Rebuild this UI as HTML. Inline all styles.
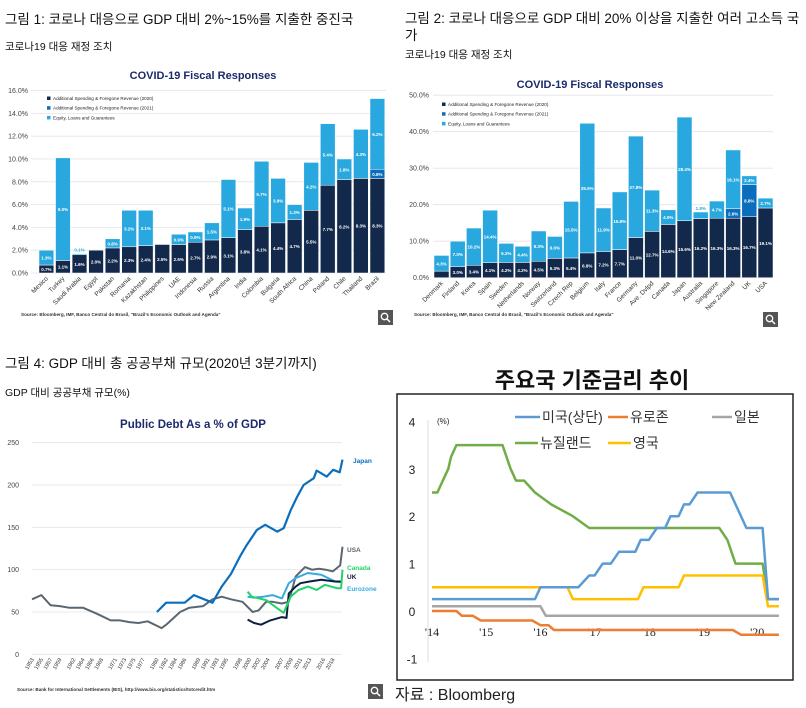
<!DOCTYPE html>
<html><head><meta charset="utf-8"><style>
body{margin:0;background:#fff;width:806px;height:708px;overflow:hidden;font-family:"Liberation Sans","Noto Sans CJK KR",sans-serif}
svg{position:absolute;left:0;top:0}
</style></head><body>
<svg id="s" width="806" height="708" xmlns="http://www.w3.org/2000/svg" font-family="Liberation Sans, Noto Sans CJK KR, sans-serif">
<text x="5" y="24" font-size="13.5" fill="#111">그림 1: 코로나 대응으로 GDP 대비 2%~15%를 지출한 중진국</text>
<text x="5" y="50" font-size="10.5" fill="#111">코로나19 대응 재정 조치</text>
<text x="405" y="23" font-size="13.5" fill="#111">그림 2: 코로나 대응으로 GDP 대비 20% 이상을 지출한 여러 고소득 국</text>
<text x="405" y="40" font-size="13.5" fill="#111">가</text>
<text x="405" y="58" font-size="10.5" fill="#111">코로나19 대응 재정 조치</text>
<text x="5" y="368" font-size="13.5" fill="#111">그림 4: GDP 대비 총 공공부채 규모(2020년 3분기까지)</text>
<text x="5" y="396" font-size="10.5" fill="#111">GDP 대비 공공부채 규모(%)</text>
</svg>
<script>
// Chart 1 data
const c1Cats=["Mexico","Turkey","Saudi Arabia","Egypt","Pakistan","Romania","Kazakhstan","Philippines","UAE","Indonesia","Russia","Argentina","India","Colombia","Bulgaria","South Africa","China","Poland","Chile","Thailand","Brazil"];
const c1Spend2020=[0.7,1.1,1.6,2.0,2.2,2.3,2.4,2.5,2.5,2.7,2.9,3.1,3.8,4.1,4.4,4.7,5.5,7.7,8.2,8.3,8.3];
const c1Spend2021=[0,0,0,0,0,0,0,0,0,0,0,0,0,0,0,0,0,0,0,0,0.8];
const c1Equity=[1.3,9.0,0.1,0,0.8,3.2,3.1,0,0.9,0.9,1.5,5.1,1.9,5.7,3.9,1.3,4.2,5.4,1.8,4.3,6.2];
const c1Ticks=[0,2,4,6,8,10,12,14,16];
// Chart 2 data
const c2Cats=["Denmark","Finland","Korea","Spain","Sweden","Netherlands","Norway","Switzerland","Czech Rep","Belgium","Italy","France","Germany","Ave. Dvlpd","Canada","Japan","Australia","Singapore","New Zealand","UK","USA"];
const c2Spend2020=[1.8,3.0,3.4,4.1,4.2,4.2,4.5,5.3,5.4,6.8,7.2,7.7,11.0,12.7,14.6,15.6,16.2,16.3,16.3,16.7,19.1];
const c2Spend2021=[0,0,0,0,0,0,0,0,0,0,0,0,0,0,0,0,0,0,2.6,8.8,0];
const c2Equity=[4.3,7.0,10.2,14.4,5.2,4.4,8.3,6.0,15.5,35.5,11.9,15.8,27.8,11.3,4.0,28.4,1.8,4.7,16.1,2.4,2.7];
const c2Ticks=[0,10,20,30,40,50];
// Chart 3 data
const c3Ticks=[0,50,100,150,200,250];
const c3YearLabels=[1953,1955,1957,1959,1962,1964,1966,1968,1971,1973,1975,1977,1980,1982,1984,1986,1989,1991,1993,1995,1998,2000,2002,2004,2007,2009,2011,2013,2016,2018];
const c3UsaYears=[1953,1955,1957,1959,1961,1964,1967,1970,1972,1974,1976,1978,1981,1982,1985,1987,1990,1992,1994,1996,1998.5,2000.7,2002,2003.6,2005,2007,2008.5,2010,2012,2013.5,2015,2016.5,2018,2019.6,2020.1];
const c3UsaVals=[65,70,58,57,55,55,48,40,40,38,37,39,31,35,50,55,57,65,68,65,62,50,52,62,62,60,62,92,103,100,101,100,98,105,127];
const c3JapanYears=[1980,1982,1986,1988,1992,1994,1996,1998,1999.4,2001.6,2003.4,2006,2007.4,2008.9,2010.3,2011.7,2013.9,2014.5,2016.7,2018.1,2019.5,2020.1];
const c3JapanVals=[50,61,61,70,61,80,95,116,129,147,153,145,149,170,186,200,208,217,210,218,215,230];
const c3UkYears=[1999.6,2001,2002.5,2004.5,2007,2008,2008.5,2010,2011,2013,2015.5,2018.5,2020.1];
const c3UkVals=[41,37,35,40,44,43,72,80,84,86,88,86,86];
const c3EuroYears=[1999.6,2001,2003,2005,2007,2008.5,2010,2012.6,2015.5,2018.5,2020.1];
const c3EuroVals=[68,67,68,70,66,84,90,96,94,86,85];
const c3CanadaYears=[1999.6,2000.5,2003.6,2005.6,2007.4,2008.9,2010.6,2012.7,2014.5,2016.3,2019,2019.8,2020.1];
const c3CanadaVals=[74,68,64,56,49,68,76,80,76,82,78,78,100];
// Chart 4 data
const c4Ticks=[-1,0,1,2,3,4];
const c4YearLabels=["'14","'15","'16","'17","'18","'19","'20"];
const c4UsT=[2014,2015.9,2016.0,2016.7,2016.9,2017.0,2017.15,2017.3,2017.45,2017.75,2017.85,2018.0,2018.15,2018.3,2018.4,2018.55,2018.65,2018.75,2018.9,2019.5,2019.8,2020.1,2020.2,2020.4];
const c4UsV=[0.25,0.25,0.5,0.5,0.75,0.75,1.0,1.0,1.25,1.25,1.5,1.5,1.75,1.75,2.0,2.0,2.25,2.25,2.5,2.5,1.75,1.75,0.25,0.25];
const c4EuroT=[2014,2014.45,2014.55,2014.75,2014.9,2015.85,2016.0,2016.15,2016.25,2019.55,2019.7,2020.4];
const c4EuroV=[0.0,0.0,-0.1,-0.1,-0.2,-0.2,-0.3,-0.3,-0.4,-0.4,-0.5,-0.5];
const c4JapanT=[2014,2016.0,2016.1,2020.4];
const c4JapanV=[0.1,0.1,-0.1,-0.1];
const c4NzT=[2014,2014.1,2014.2,2014.3,2014.35,2014.45,2015.3,2015.45,2015.55,2015.7,2015.9,2016.2,2016.6,2016.9,2019.3,2019.45,2019.6,2020.1,2020.2,2020.4];
const c4NzV=[2.5,2.5,2.75,3.0,3.25,3.5,3.5,3.0,2.75,2.75,2.5,2.25,2.0,1.75,1.75,1.5,1.0,1.0,0.25,0.25];
const c4UkT=[2014,2016.5,2016.6,2017.8,2017.9,2018.55,2018.65,2020.1,2020.2,2020.4];
const c4UkV=[0.5,0.5,0.25,0.25,0.5,0.5,0.75,0.75,0.1,0.1];

const S=document.getElementById('s');
const NS='http://www.w3.org/2000/svg';
function mk(tag,attrs,txt){const e=document.createElementNS(NS,tag);for(const k in attrs)e.setAttribute(k,attrs[k]);if(txt!==undefined)e.textContent=txt;S.appendChild(e);return e;}
const NAVY='#13294b',MID='#0a6ebd',LIGHT='#29a8df',TITLE='#1b2a6b';

function barChart(p){
  const {cats,a,b,c,ticks,y,x,bw,gx0,gx1,lblX,pfx,fmt}=p;
  ticks.forEach(t=>{
    const g=mk('line',{x1:gx0,x2:gx1,y1:y(t),y2:y(t),stroke:'#e3e3e3','stroke-width':0.8});
    
    
    const l=mk('text',{x:lblX,y:y(t)+2.5,'font-size':7,'text-anchor':'end',fill:'#444'},t.toFixed(1)+'%');
    
    
  });
  cats.forEach((cat,i)=>{
    const x0=x(i);
    const segs=[[0,a[i],NAVY],[a[i],a[i]+b[i],MID],[a[i]+b[i],a[i]+b[i]+c[i],LIGHT]];
    segs.forEach((s,k)=>{
      if(s[1]-s[0]<=0)return;
      const r=mk('rect',{x:x0,y:y(s[1]),width:bw,height:y(s[0])-y(s[1]),fill:s[2],stroke:'#fff','stroke-width':0.5});
      
      
      const v=s[1]-s[0];
      const ty=(s[1]-s[0])*Math.abs(y(1)-y(0))>7?(y(s[0])+y(s[1]))/2+2:y(s[1])-2;
      const t=mk('text',{x:x0+bw/2,y:ty,'font-size':4.5,'font-weight':'bold','text-anchor':'middle',fill:ty<y(s[1])?LIGHT:'#fff'},v.toFixed(1)+'%');
      
      
    });
    const cx=x0+bw/2, cy=y(0)+6;
    const lb=mk('text',{x:cx+2,y:cy,'font-size':6.5,'text-anchor':'end',fill:'#333',transform:`rotate(-45 ${cx+2} ${cy})`},cat);
    
    
  });
}
function legend(x0,y0,pfx){
  [['Additional Spending & Foregone Revenue (2020)',NAVY],['Additional Spending & Foregone Revenue (2021)',MID],['Equity, Loans and Guarantees',LIGHT]].forEach((e,i)=>{
    const r=mk('rect',{x:x0,y:y0+i*9.7-3.5,width:3.5,height:3.5,fill:e[1]});
    
    
    const t=mk('text',{x:x0+6,y:y0+i*9.7,'font-size':4.6,fill:'#222'},e[0]);
    
    
  });
}
function zoomIcon(x0,y0,pfx){
  const r=mk('rect',{x:x0,y:y0,width:15,height:15,fill:'#555'});
  
  
  const c=mk('circle',{cx:x0+6.5,cy:y0+6.5,r:3.2,fill:'none',stroke:'#fff','stroke-width':1.3});
  
  
  const l=mk('line',{x1:x0+9,y1:y0+9,x2:x0+12,y2:y0+12,stroke:'#fff','stroke-width':1.5});
  
  
}
function title(x,y,txt,pfx,fs){
  const t=mk('text',{x:x,y:y,'font-size':fs||11,'font-weight':'bold','text-anchor':'middle',fill:TITLE},txt);
  
  
}
function src(x,y,txt,pfx){
  const t=mk('text',{x:x,y:y,'font-size':4.6,'font-weight':'bold',fill:'#333'},txt);
  
  
}

// Chart 1
const y1=v=>273-v*11.4, x1=i=>39+i*16.55;
title(203,79,'COVID-19 Fiscal Responses','chart1');
barChart({cats:c1Cats,a:c1Spend2020,b:c1Spend2021,c:c1Equity,ticks:c1Ticks,y:y1,x:x1,bw:14.8,gx0:31,gx1:386,lblX:28,pfx:'chart1'});
legend(47,100,'chart1');
src(21,316,'Source: Bloomberg, IMF, Banco Central do Brasil, "Brazil\'s Economic Outlook and Agenda"','chart1');
zoomIcon(378,310,'chart1');

// Chart 2
const y2=v=>277.7-v*3.65, x2=i=>434+i*16.2;
title(590,88,'COVID-19 Fiscal Responses','chart2');
barChart({cats:c2Cats,a:c2Spend2020,b:c2Spend2021,c:c2Equity,ticks:c2Ticks,y:y2,x:x2,bw:15,gx0:433,gx1:773,lblX:429,pfx:'chart2'});
legend(442,106,'chart2');
src(414,316,'Source: Bloomberg, IMF, Banco Central do Brasil, "Brazil\'s Economic Outlook and Agenda"','chart2');
zoomIcon(763,312,'chart2');

// Chart 3
const y3=v=>654.3-v*0.8464, x3=yr=>32+(yr-1953)*4.627;
title(193,428,'Public Debt As a % of GDP','chart3',11.5);
c3Ticks.forEach(t=>{
  const g=mk('line',{x1:32,x2:342,y1:y3(t),y2:y3(t),stroke:'#e3e3e3','stroke-width':0.8});
  
  
  const l=mk('text',{x:19,y:y3(t)+2.5,'font-size':7,'text-anchor':'end',fill:'#444'},t);
  
  
});
c3YearLabels.forEach(yr=>{
  const cx=x3(yr), cy=y3(0)+5;
  const t=mk('text',{x:cx+2,y:cy,'font-size':5.5,'text-anchor':'end',fill:'#333',transform:`rotate(-60 ${cx+2} ${cy})`},yr);
  
  
});
function line(xs,vs,xf,yf,col,w,name){
  const d=xs.map((x,i)=>(i?'L':'M')+xf(x).toFixed(1)+','+yf(vs[i]).toFixed(1)).join('');
  const p=mk('path',{d:d,fill:'none',stroke:col,'stroke-width':w,'stroke-linejoin':'round'});
  
  
}
line(c3UsaYears,c3UsaVals,x3,y3,'#5b6770',2,'usa-debt-line');
line(c3JapanYears,c3JapanVals,x3,y3,'#0a6ebd',2.2,'japan-debt-line');
line(c3EuroYears,c3EuroVals,x3,y3,'#3aa9e0',2,'eurozone-debt-line');
line(c3UkYears,c3UkVals,x3,y3,'#0b1f3f',2,'uk-debt-line');
line(c3CanadaYears,c3CanadaVals,x3,y3,'#22d36a',2,'canada-debt-line');
[['Japan',353,463,'#0a6ebd'],['USA',347,552,'#5b6770'],['Canada',347,570,'#22d36a'],['UK',347,579,'#0b1f3f'],['Eurozone',347,591,'#3aa9e0']].forEach(e=>{
  const t=mk('text',{x:e[1],y:e[2],'font-size':6.5,'font-weight':'bold',fill:e[3]},e[0]);
  
  
});
src(17,691,'Source: Bank for International Settlements (BIS), http://www.bis.org/statistics/totcredit.htm','chart3');
zoomIcon(368,684,'chart3');

// Chart 4
const y4=v=>611-v*47.4, x4=t=>432+(t-2014)*54.2;
const t4=mk('text',{x:592,y:388,'font-size':22,'font-weight':'bold','text-anchor':'middle',fill:'#111'},'주요국 기준금리 추이');


const box=mk('rect',{x:397,y:394,width:396,height:286,fill:'none',stroke:'#222','stroke-width':1.5});


const ax=mk('line',{x1:428,x2:428,y1:420,y2:662,stroke:'#ddd','stroke-width':1});


c4Ticks.forEach(t=>{
  const l=mk('text',{x:412,y:y4(t)+5,'font-size':12,'text-anchor':'middle',fill:'#222'},t);
  
  
});
c4YearLabels.forEach((lab,i)=>{
  const l=mk('text',{x:x4(2014+i),y:636,'font-size':12,'text-anchor':'middle',fill:'#222','font-family':'Liberation Serif, serif'},lab);
  
  
});
const pct=mk('text',{x:437,y:424,'font-size':8,fill:'#222'},'(%)');


line(c4NzT,c4NzV,x4,y4,'#70ad47',2.5,'nz-rate-line');
line(c4JapanT,c4JapanV,x4,y4,'#a5a5a5',2.5,'japan-rate-line');
line(c4EuroT,c4EuroV,x4,y4,'#ed7d31',2.5,'eurozone-rate-line');
line(c4UkT,c4UkV,x4,y4,'#ffc000',2.5,'uk-rate-line');
line(c4UsT,c4UsV,x4,y4,'#5b9bd5',2.5,'us-rate-line');
[['미국(상단)',515,417,'#5b9bd5',25],['유로존',608,417,'#ed7d31',20],['일본',712,417,'#a5a5a5',20],['뉴질랜드',515,443,'#70ad47',23],['영국',608,443,'#ffc000',23]].forEach(e=>{
  const l=mk('line',{x1:e[1],x2:e[1]+e[4],y1:e[2],y2:e[2],stroke:e[3],'stroke-width':2.5});
  
  
  const t=mk('text',{x:e[1]+e[4]+2,y:e[2]+5,'font-size':14,fill:'#333'},e[0]);
  
  
});
const so=mk('text',{x:395,y:700,'font-size':16,fill:'#222'},'자료 : Bloomberg');


</script>
</body></html>
